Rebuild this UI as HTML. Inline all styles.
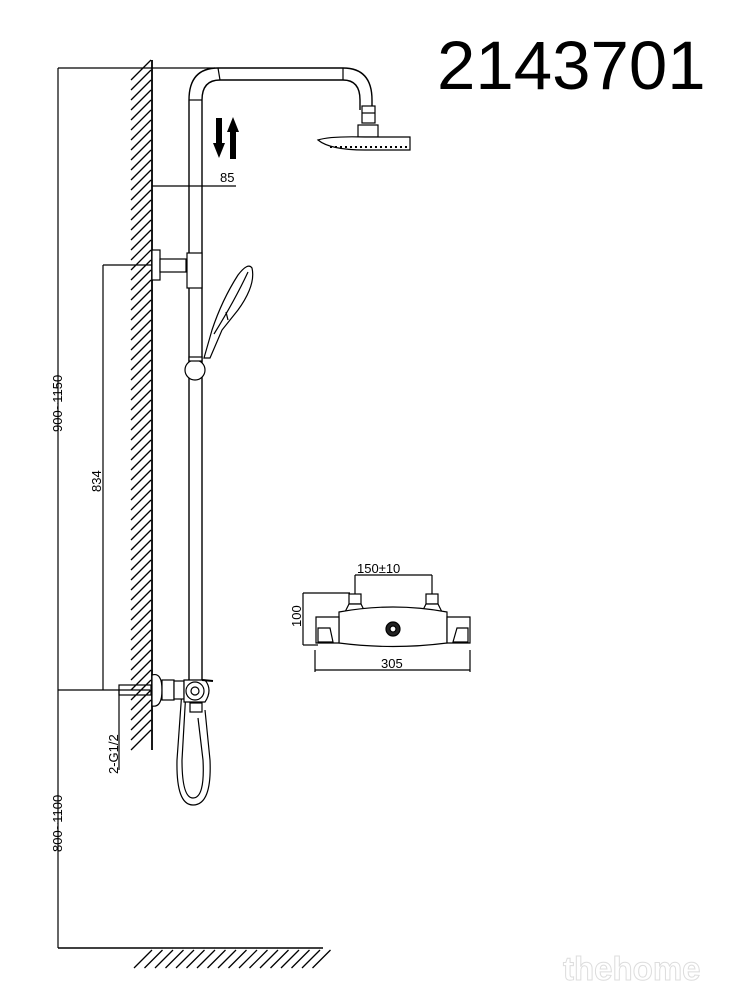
<!DOCTYPE html>
<html><head><style>
body{margin:0;background:#fff;width:729px;height:1000px;overflow:hidden}
svg{display:block}
text{font-family:"Liberation Sans",sans-serif;fill:#000}
</style></head><body>
<svg width="729" height="1000" viewBox="0 0 729 1000" xmlns="http://www.w3.org/2000/svg">
<g stroke="#000" fill="none" stroke-width="1.3">
<line x1="152" y1="60" x2="152" y2="750" stroke-width="1.8"/>
</g>
<g stroke="#000" stroke-width="1.3" fill="none" id="hw"></g>
<script>
(function(){
var ns="http://www.w3.org/2000/svg",g=document.getElementById("hw"),s="";
for(var y=60;y<=748;y+=10){var y2=y+20;if(y2>750)continue;s+="M131 "+y2+" L151 "+y+" ";}
for(var x=134;x<=314;x+=10.5){s+="M"+x+" 968 L"+(x+18)+" 950 ";}
var p=document.createElementNS(ns,"path");p.setAttribute("d",s);g.appendChild(p);
})();
</script>
<g stroke="#000" fill="none" stroke-width="1.2">
<line x1="58" y1="68" x2="58" y2="948"/>
<line x1="58" y1="68" x2="215" y2="68"/>
<line x1="58" y1="690" x2="150" y2="690"/>
<line x1="58" y1="948" x2="323" y2="948" stroke-width="1.6"/>
<line x1="103" y1="265" x2="103" y2="690"/>
<line x1="103" y1="265" x2="190" y2="265"/>
<line x1="152" y1="186" x2="236" y2="186"/>
<line x1="119" y1="690" x2="119" y2="770"/>
<path d="M189 680 V100 Q189 68 218 68 H343 Q372 68 372 100 V110" stroke-width="1.4"/>
<path d="M202 680 V100 Q202 80 220 80 H343 Q360 80 360 100 V110" stroke-width="1.4"/>
<line x1="189" y1="100" x2="202" y2="100"/>
<line x1="218" y1="68" x2="220" y2="80"/>
<line x1="343" y1="68" x2="343" y2="80"/>
<rect x="362" y="106" width="13" height="17" fill="#fff"/>
<line x1="362" y1="113" x2="375" y2="113"/>
<rect x="358" y="125" width="20" height="12" fill="#fff"/>
<path d="M318 140 Q330 136 365 137 L410 137 L410 150 L365 150 Q330 150 318 140Z" fill="#fff"/>
<path d="M330 147 H410" stroke-dasharray="2 3" stroke-width="2"/>
<rect x="152" y="250" width="8" height="30" fill="#fff"/>
<rect x="160" y="259" width="26" height="13" fill="#fff"/>
<rect x="187" y="253" width="15" height="35" fill="#fff"/>
<path d="M204 358 L212 330 Q222 300 238 275 Q248 262 252 268 Q256 285 238 310 L222 330 L210 358 Z" fill="#fff"/>
<path d="M214 334 Q235 300 248 272" />
<line x1="226" y1="312" x2="228" y2="320"/>
<circle cx="195" cy="370" r="10" fill="#fff"/>
<rect x="189" y="357" width="13" height="4" fill="#fff"/>
<path d="M182 690 L177 760 Q176 805 193 805 Q212 805 210 760 L205 710"/>
<path d="M186 690 L182 760 Q182 798 193 798 Q205 798 203 760 L198 718"/>
<path d="M152 675 Q162 672 162 690 Q162 708 152 706 Z" fill="#fff"/>
<rect x="162" y="680" width="12" height="20" fill="#fff"/>
<rect x="174" y="681" width="10" height="18" fill="#fff"/>
<path d="M184 680 H205 Q213 690 205 702 H184 Z" fill="#fff"/>
<circle cx="195" cy="691" r="9" fill="#fff"/>
<circle cx="195" cy="691" r="4"/>
<rect x="190" y="703" width="12" height="9" fill="#fff"/>
<line x1="202" y1="680" x2="213" y2="681" stroke-width="2"/>
<rect x="119" y="685" width="32" height="10" fill="none"/>
<line x1="355" y1="575" x2="432" y2="575"/>
<line x1="355" y1="575" x2="355" y2="596"/>
<line x1="432" y1="575" x2="432" y2="596"/>
<line x1="303" y1="593" x2="350" y2="593"/>
<line x1="303" y1="593" x2="303" y2="645"/>
<line x1="303" y1="645" x2="318" y2="645"/>
<line x1="315" y1="650" x2="315" y2="672"/>
<line x1="470" y1="650" x2="470" y2="672"/>
<line x1="315" y1="670" x2="470" y2="670"/>
<rect x="349" y="594" width="12" height="10" fill="#fff"/>
<rect x="426" y="594" width="12" height="10" fill="#fff"/>
<path d="M345 612 L349 604 H361 L365 612 Q358 620 345 612Z" fill="#fff"/>
<path d="M422 612 L426 604 H438 L442 612 Q430 620 422 612Z" fill="#fff"/>
<path d="M339 612 Q393 602 447 612 L447 643 Q393 650 339 643 Z" fill="#fff"/>
<path d="M316 617 H339 V643 H316 Z" fill="#fff"/>
<path d="M447 617 H470 V643 H447 Z" fill="#fff"/>
<path d="M318 628 H330 L333 642 H318 Z"/>
<path d="M468 628 H457 L453 642 H468 Z"/>
<circle cx="393" cy="629" r="7" fill="#222"/>
<circle cx="393" cy="629" r="3" fill="#fff"/>
</g>
<g fill="#000">
<rect x="216" y="118" width="6" height="26"/><path d="M213 143 H225 L219 158Z"/>
<rect x="230" y="131" width="6" height="28"/><path d="M227 132 H239 L233 117Z"/>
</g>
<text x="220" y="182" font-size="13">85</text>
<text transform="translate(62,432) rotate(-90)" font-size="13">900~1150</text>
<text transform="translate(101,492) rotate(-90)" font-size="13">834</text>
<text transform="translate(118,774) rotate(-90)" font-size="13">2-G1/2</text>
<text transform="translate(62,852) rotate(-90)" font-size="13">800~1100</text>
<text x="357" y="573" font-size="13">150±10</text>
<text transform="translate(301,627) rotate(-90)" font-size="13">100</text>
<text x="381" y="668" font-size="13">305</text>
<text x="437" y="89" font-size="69">2143701</text>
<text x="563" y="980" font-size="33" font-weight="bold" style="fill:#fff;stroke:#ddd;stroke-width:1">thehome</text>
</svg>
</body></html>
